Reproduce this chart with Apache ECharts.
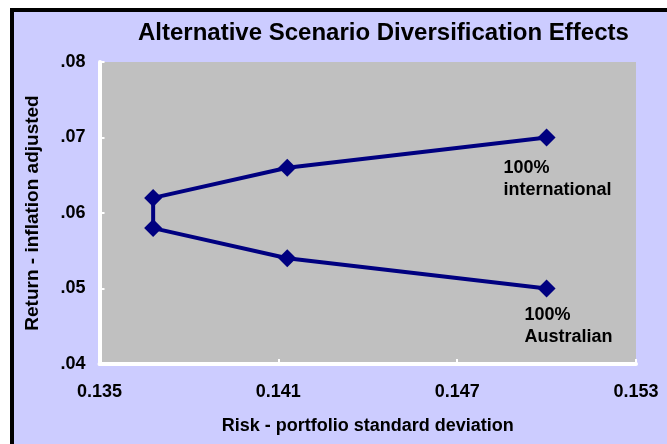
<!DOCTYPE html>
<html>
<head>
<meta charset="utf-8">
<script src="https://cdn.jsdelivr.net/npm/echarts@6/dist/echarts.min.js"></script>
<style>
  html, body { margin: 0; padding: 0; background: #ffffff; overflow: hidden; }
  #frame { position: absolute; left: 10px; top: 8px; width: 720px; height: 500px;
           background: #CCCCFF; border-left: 4px solid #000; border-top: 4px solid #000; }
  #chart { position: absolute; left: 0; top: 0; width: 667px; height: 444px; }
</style>
</head>
<body>
<div id="frame"></div>
<div id="chart"></div>
<script>
// ---- data ----
const chartTitle = 'Alternative Scenario Diversification Effects';
const xAxisTitle = 'Risk - portfolio standard deviation';
const yAxisTitle = 'Return - inflation adjusted';
const riskValues   = [0.1500, 0.1413, 0.1368, 0.1368, 0.1413, 0.1500];
const returnValues = [0.070, 0.066, 0.062, 0.058, 0.054, 0.050];
const pointLabels  = ['100%\ninternational', '', '', '', '', '100%\nAustralian'];
const xTickValues  = [0.135, 0.141, 0.147, 0.153];
const yTickValues  = [0.04, 0.05, 0.06, 0.07, 0.08];

// ---- styling / layout (not data) ----
const FONT = "'Liberation Sans', Arial, sans-serif";
const labelPositions = { 0: [-34, 29], 5: [-13, 25] };

const seriesData = riskValues.map((x, i) => {
  const item = { value: [x, returnValues[i]] };
  if (pointLabels[i]) {
    item.label = {
      show: true,
      formatter: pointLabels[i],
      position: labelPositions[i],
      align: 'left',
      verticalAlign: 'top'
    };
  }
  return item;
});

const chart = echarts.init(document.getElementById('chart'), null, { renderer: 'canvas' });
chart.setOption({
  backgroundColor: 'transparent',
  animation: false,
  title: {
    text: chartTitle,
    left: 138,
    top: 21,
    padding: 0,
    textStyle: { fontFamily: FONT, fontWeight: 'bold', fontSize: 24, color: '#000' }
  },
  grid: {
    left: 99.5, right: 31, top: 62, bottom: 80,
    show: true, backgroundColor: '#C0C0C0', borderWidth: 0,
    containLabel: false
  },
  xAxis: {
    type: 'value',
    min: xTickValues[0],
    max: xTickValues[xTickValues.length - 1],
    name: xAxisTitle,
    nameLocation: 'middle',
    nameGap: 53,
    nameTextStyle: { fontFamily: FONT, fontWeight: 'bold', fontSize: 18, color: '#000' },
    axisLine: { show: true, onZero: false, lineStyle: { color: '#fff', width: 4 } },
    axisTick: { show: true, inside: true, length: 5, customValues: xTickValues,
                lineStyle: { color: '#fff', width: 2 } },
    axisLabel: { show: true, margin: 19, customValues: xTickValues,
                 formatter: v => v.toFixed(3),
                 fontFamily: FONT, fontWeight: 'bold', fontSize: 18, color: '#000' },
    splitLine: { show: false }
  },
  yAxis: {
    type: 'value',
    min: yTickValues[0],
    max: yTickValues[yTickValues.length - 1],
    interval: 0.01,
    name: yAxisTitle,
    nameLocation: 'middle',
    nameRotate: 90,
    nameGap: 57,
    nameTextStyle: { fontFamily: FONT, fontWeight: 'bold', fontSize: 19, color: '#000' },
    axisLine: { show: true, onZero: false, lineStyle: { color: '#fff', width: 4 } },
    axisTick: { show: true, inside: true, length: 5, lineStyle: { color: '#fff', width: 2 } },
    axisLabel: { show: true, margin: 14,
                 formatter: v => v.toFixed(2).replace(/^0/, ''),
                 fontFamily: FONT, fontWeight: 'bold', fontSize: 18, color: '#000' },
    splitLine: { show: false }
  },
  series: [{
    type: 'line',
    data: seriesData,
    symbol: 'diamond',
    symbolSize: 18,
    lineStyle: { color: '#000080', width: 4 },
    itemStyle: { color: '#000080' },
    label: { show: false, fontFamily: FONT, fontWeight: 'bold', fontSize: 18,
             lineHeight: 22, color: '#000' },
    emphasis: { disabled: true }
  }]
});
</script>
</body>
</html>
